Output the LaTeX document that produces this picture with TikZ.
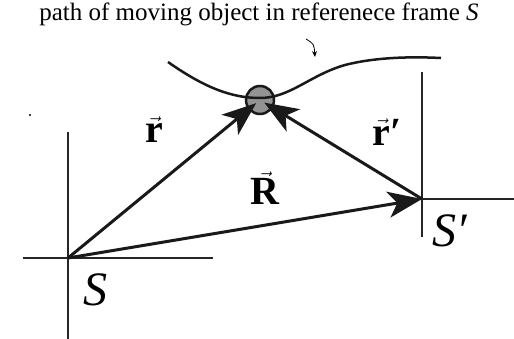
\documentclass[tikz,border=0pt]{standalone}
\usepackage{fontspec}
\setmainfont{Liberation Serif}
\usetikzlibrary{arrows.meta}

\begin{document}
\begin{tikzpicture}[x=1pt, y=-1pt,
  axis/.style={line width=1.4pt, black!85},
  vecline/.style={line width=3pt, black!90, -{Stealth[length=34pt, width=26pt, inset=9pt]}},
  veclabel/.style={font=\fontsize{40}{42}\selectfont},
  framelabel/.style={font=\fontsize{48}{50}\selectfont\itshape}]
  \useasboundingbox (0,0) rectangle (514,339);

  % reference frame S
  \coordinate (S) at (68,258);
  \draw[axis] (23,258) -- (213,258);
  \draw[axis] (68,132) -- (68,339);
  \node[framelabel] (Slab) at (95,290) {S};

  % reference frame S'
  \coordinate (Sp) at (422,199);
  \draw[axis] (422,72) -- (422,237);
  \draw[axis] (422,199) -- (514,199);
  \node[framelabel] (Splab) at (450,231) {S′};

  % moving object and its path
  \node[circle, draw=black!90, line width=2.5pt, fill=gray!85, minimum size=28pt, inner sep=0pt] (obj) at (260,100) {};
  \draw[line width=2.5pt, black!90] (168,62) .. controls (205,88) and (232,98) .. (260,98)
    .. controls (290,98) and (310,75) .. (345,65) .. controls (380,56) and (420,57) .. (441,58);

  % position vectors
  \draw[vecline, shorten >=5pt] (S) -- (obj.center);
  \draw[vecline, shorten >=5pt] (Sp) -- (obj.center);
  \draw[vecline] (S) -- (Sp);

  \node[veclabel] (rlab) at (154,130) {$\vec{\textbf{r}}$};
  \node[veclabel] (rplab) at (387,132) {$\vec{\textbf{r}}$\textbf{′}};
  \node[veclabel] (Rlab) at (265,188) {$\vec{\textbf{R}}$};

  % caption and pointer
  \node[font=\fontsize{25}{27}\selectfont] (title) at (259,14) {path of moving object in referenece frame \textit{S}};
  \coordinate (hint) at (306,39);
  \coordinate (hinttip) at (315,57);
  \draw[line width=0.8pt, -{Stealth[length=6pt, width=5pt]}] (hint) .. controls (314,44) .. (hinttip);

  \fill (30,115) circle (1.2pt);
\end{tikzpicture}
\end{document}
